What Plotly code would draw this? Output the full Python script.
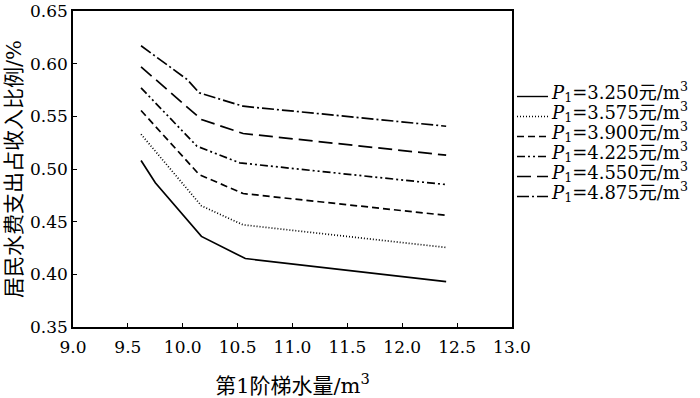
import plotly.graph_objects as go

# Data
price_labels = ["3.250", "3.575", "3.900", "4.225", "4.550", "4.875"]

x_p3250 = [9.62, 9.75, 10.17, 10.57, 12.40]
y_p3250 = [0.508, 0.487, 0.436, 0.415, 0.393]

x_p3575 = [9.62, 10.17, 10.55, 12.40]
y_p3575 = [0.533, 0.465, 0.447, 0.4255]

x_p3900 = [9.62, 10.15, 10.55, 12.40]
y_p3900 = [0.5555, 0.4947, 0.4767, 0.456]

x_p4225 = [9.62, 10.13, 10.52, 12.40]
y_p4225 = [0.577, 0.5216, 0.5058, 0.4852]

x_p4550 = [9.62, 10.17, 10.55, 12.40]
y_p4550 = [0.597, 0.547, 0.5337, 0.5131]

x_p4875 = [9.62, 10.04, 10.15, 10.55, 12.40]
y_p4875 = [0.617, 0.585, 0.5723, 0.5596, 0.5406]

x_ticks = [9.0, 9.5, 10.0, 10.5, 11.0, 11.5, 12.0, 12.5, 13.0]
y_ticks = [0.35, 0.40, 0.45, 0.50, 0.55, 0.60, 0.65]

series_x = [x_p3250, x_p3575, x_p3900, x_p4225, x_p4550, x_p4875]
series_y = [y_p3250, y_p3575, y_p3900, y_p4225, y_p4550, y_p4875]
dashes = ["solid", "1px,2px", "7px,4px", "8px,3px,2px,3px,2px,3px", "14px,6px", "12px,3px,2px,3px"]

FONT = "DejaVu Serif, Noto Sans CJK SC, serif"

W, H = 700, 398
ML, MR, MT, MB = 73, 188, 11, 71
PW, PH = W - ML - MR, H - MT - MB

fig = go.Figure()
for lab, xs, ys, d in zip(price_labels, series_x, series_y, dashes):
    fig.add_trace(go.Scatter(
        x=xs, y=ys, mode="lines",
        name=f"P1={lab}元/m3",
        line=dict(color="black", width=1.7, dash=d),
        showlegend=False,
    ))

# Hand-built legend (compact rows like the reference)
leg_top_px = 96.5   # y of first legend sample line (pixels from top)
leg_step_px = 20.0
line_x0_px, line_x1_px, text_x_px = 517, 548, 549
for i, (lab, d) in enumerate(zip(price_labels, dashes)):
    py = leg_top_px + i * leg_step_px
    yp = (H - MB - py) / PH
    fig.add_shape(type="line", xref="paper", yref="paper",
                  x0=(line_x0_px - ML) / PW, x1=(line_x1_px - ML) / PW,
                  y0=yp, y1=yp, line=dict(color="black", width=1.4, dash=d))
    fig.add_annotation(xref="paper", yref="paper",
                       x=(text_x_px - ML) / PW, y=yp + 4.5 / PH,
                       xanchor="left", yanchor="middle", showarrow=False,
                       text=f"<i>P</i><sub>1</sub>={lab}元/m<sup>3</sup>",
                       font=dict(family=FONT, size=18, color="black"))

fig.update_layout(
    width=W, height=H,
    margin=dict(l=ML, r=MR, t=MT, b=MB),
    paper_bgcolor="white", plot_bgcolor="white",
    font=dict(family=FONT, size=17, color="black"),
    showlegend=False,
)
fig.update_xaxes(
    range=[9.0, 13.0], tickvals=x_ticks, ticktext=[f"{v:.1f}" for v in x_ticks],
    showline=True, linecolor="black", linewidth=1.5, mirror=True,
    ticks="inside", ticklen=4, tickcolor="black", showgrid=False, zeroline=False,
    ticklabelstandoff=4,
    title=dict(text="第1阶梯水量/m<sup>3</sup>", font=dict(family=FONT, size=21), standoff=22),
    tickfont=dict(family=FONT, size=17),
    automargin=False,
)
fig.update_yaxes(
    range=[0.35, 0.65], tickvals=y_ticks, ticktext=[f"{v:.2f}" for v in y_ticks],
    showline=True, linecolor="black", linewidth=1.5, mirror=True,
    ticks="inside", ticklen=4, tickcolor="black", showgrid=False, zeroline=False,
    title=dict(text="居民水费支出占收入比例/%", font=dict(family=FONT, size=21), standoff=3),
    tickfont=dict(family=FONT, size=17),
    automargin=False,
)

fig.write_html("out.html",
               config={"displayModeBar": False},
               post_script="document.body.style.margin='0';document.body.style.overflow='hidden';")
